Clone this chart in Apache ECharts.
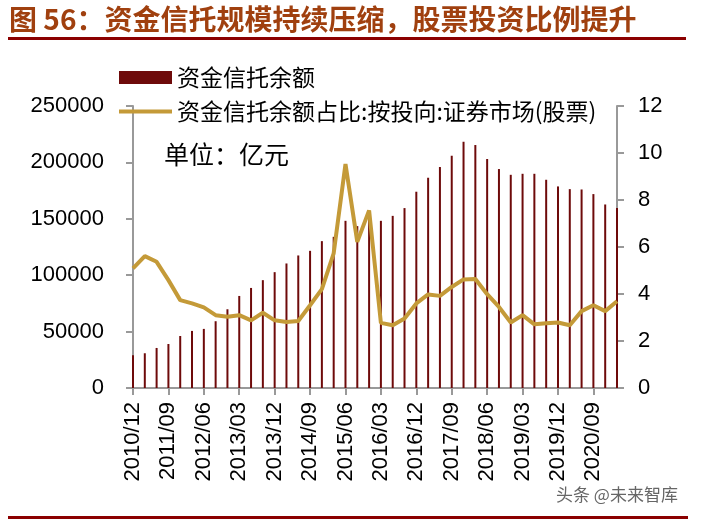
<!DOCTYPE html>
<html>
<head>
<meta charset="utf-8">
<script src="https://cdn.jsdelivr.net/npm/echarts@6/dist/echarts.min.js"></script>
<style>
  html, body { margin: 0; padding: 0; background: #fff; }
  #chart { width: 701px; height: 521px; }
</style>
</head>
<body>
<div id="chart"></div>
<script>
// 季度
var quarters = [
  '2010/12', '2011/03', '2011/06', '2011/09', '2011/12', '2012/03', '2012/06', '2012/09',
  '2012/12', '2013/03', '2013/06', '2013/09', '2013/12', '2014/03', '2014/06', '2014/09',
  '2014/12', '2015/03', '2015/06', '2015/09', '2015/12', '2016/03', '2016/06', '2016/09',
  '2016/12', '2017/03', '2017/06', '2017/09', '2017/12', '2018/03', '2018/06', '2018/09',
  '2018/12', '2019/03', '2019/06', '2019/09', '2019/12', '2020/03', '2020/06', '2020/09',
  '2020/12', '2021/03'
];

// 资金信托余额（亿元）
var trustBalance = [
  29000, 30800, 35500, 39000, 46100, 50600, 52400, 59200,
  69800, 81600, 88700, 95600, 102700, 110400, 117500, 121600,
  130200, 134000, 148200, 143500, 150000, 148200, 152600, 159500,
  174000, 186400, 195900, 205900, 218300, 215400, 203000, 194100,
  189000, 189900, 189900, 184600, 178700, 176300, 176000, 171900,
  162700, 159500
];

// 资金信托余额占比:按投向:证券市场(股票)（%）
var stockShare = [
  5.09, 5.61, 5.37, 4.59, 3.74, 3.60, 3.43, 3.10,
  3.03, 3.10, 2.88, 3.20, 2.88, 2.81, 2.85, 3.52,
  4.21, 5.73, 9.53, 6.22, 7.56, 2.77, 2.67, 2.96,
  3.60, 3.98, 3.92, 4.30, 4.62, 4.64, 3.99, 3.45,
  2.79, 3.10, 2.71, 2.76, 2.79, 2.67, 3.27, 3.52,
  3.27, 3.69
];

var leftTicks = [0, 250000, 50000];   // min, max, interval
var rightTicks = [0, 12, 2];

var barName = '资金信托余额';
var lineName = '资金信托余额占比:按投向:证券市场(股票)';

var cjk = '"Noto Sans CJK SC", sans-serif';
var latin = '"Liberation Sans", Arial, sans-serif';
var axisGray = '#999999';
var barColor = '#6E0A0A';
var lineColor = '#C49A38';

var myChart = echarts.init(document.getElementById('chart'));
var option = {
  backgroundColor: '#ffffff',
  animation: false,
  title: {
    text: '图 56：资金信托规模持续压缩，股票投资比例提升',
    left: 4,
    top: 0,
    textStyle: { fontFamily: cjk, fontSize: 28, fontWeight: 'bold', color: '#A0400F' }
  },
  legend: [
    {
      left: 114, top: 61,
      itemWidth: 53, itemHeight: 13,
      textStyle: { fontFamily: cjk, fontSize: 23, color: '#000' },
      data: [{ name: barName, icon: 'rect' }]
    },
    {
      left: 114, top: 95,
      itemWidth: 53, itemHeight: 4,
      textStyle: { fontFamily: cjk, fontSize: 23, color: '#000' },
      data: [{ name: lineName, icon: 'rect', itemStyle: { color: lineColor } }]
    }
  ],
  grid: { left: 133, right: 84, top: 106, bottom: 133 },
  xAxis: {
    type: 'category',
    data: quarters,
    boundaryGap: false,
    axisLine: { lineStyle: { color: axisGray, width: 2 } },
    axisTick: { interval: 2, length: 7, lineStyle: { color: axisGray, width: 2 } },
    axisLabel: {
      interval: 2, rotate: 90, margin: 14,
      fontFamily: latin, fontSize: 22, color: '#000'
    }
  },
  yAxis: [
    {
      type: 'value',
      min: leftTicks[0], max: leftTicks[1], interval: leftTicks[2],
      splitLine: { show: false },
      axisLine: { show: true, lineStyle: { color: axisGray, width: 2 } },
      axisTick: { show: true, length: 7, lineStyle: { color: axisGray, width: 2 } },
      axisLabel: {
        margin: 29, fontFamily: latin, fontSize: 22, color: '#000',
        formatter: function (v) { return String(v); }
      }
    },
    {
      type: 'value',
      min: rightTicks[0], max: rightTicks[1], interval: rightTicks[2],
      splitLine: { show: false },
      axisLine: { show: true, lineStyle: { color: axisGray, width: 2 } },
      axisTick: { show: true, length: 7, lineStyle: { color: axisGray, width: 2 } },
      axisLabel: { margin: 21, fontFamily: latin, fontSize: 22, color: '#000' }
    }
  ],
  series: [
    {
      name: barName,
      type: 'bar',
      barWidth: 2,
      clip: false,
      itemStyle: { color: barColor },
      data: trustBalance
    },
    {
      name: lineName,
      type: 'line',
      yAxisIndex: 1,
      symbol: 'none',
      lineStyle: { color: lineColor, width: 4 },
      itemStyle: { color: lineColor },
      data: stockShare
    }
  ],
  graphic: [
    { type: 'rect', shape: { x: 8, y: 37, width: 678, height: 3 }, style: { fill: '#8B0000' } },
    { type: 'rect', shape: { x: 8, y: 516, width: 680, height: 3 }, style: { fill: '#8B0000' } },
    {
      type: 'text', left: 164, top: 142,
      style: { text: '单位：亿元', font: '25px ' + cjk, fill: '#000' }
    },
    {
      type: 'text', left: 556, top: 486,
      style: { text: '头条 @未来智库', font: '17px ' + cjk, fill: '#666' }
    }
  ]
};
myChart.setOption(option);
</script>
</body>
</html>
